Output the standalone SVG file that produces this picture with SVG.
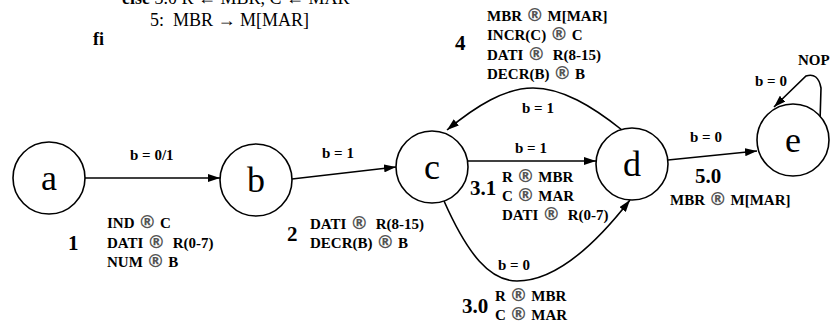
<svg xmlns="http://www.w3.org/2000/svg" width="831" height="324" viewBox="0 0 831 324">
  <style>
    .node { fill: #fff; stroke: #000; stroke-width: 1.6; }
    .nlab { font-family: "Liberation Serif", serif; font-size: 36px; text-anchor: middle; fill: #000; }
    .edge { fill: none; stroke: #000; stroke-width: 1.6; }
    .lbl { font-family: "Liberation Serif", serif; font-size: 15px; font-weight: bold; fill: #000; }
    .num { font-family: "Liberation Serif", serif; font-size: 21px; font-weight: bold; fill: #000; }
    .code { font-family: "Liberation Serif", serif; font-size: 18px; fill: #000; }
    .r { fill: #555; font-family: "DejaVu Sans", sans-serif; font-size: 18px; font-weight: bold; }
  </style>
  <defs>
    <marker id="arrow" viewBox="0 0 12 8" refX="12" refY="4" markerWidth="12" markerHeight="8" markerUnits="userSpaceOnUse" orient="auto">
      <path d="M0,0 L12,4 L0,8 Z" fill="#000"/>
    </marker>
  </defs>

  <!-- pseudo-code fragment -->
  <g id="code">
    <text class="code" x="122" y="4"><tspan font-weight="bold">else</tspan> 3.0 R ← MBR, C ← MAR</text>
    <text class="code" x="150" y="26">5:&#160;&#160;MBR → M[MAR]</text>
    <text class="code" x="93" y="45" font-weight="bold">fi</text>
  </g>

  <!-- connectors -->
  <g id="edges">
    <path class="edge" d="M85,178 L220,178" marker-end="url(#arrow)"/>
    <path class="edge" d="M292,179 L396,167" marker-end="url(#arrow)"/>
    <path class="edge" d="M468,161 L596,161" marker-end="url(#arrow)"/>
    <path class="edge" d="M444,201 C468,255 490,281 517,281 C555,281 595,245 630,200" marker-end="url(#arrow)"/>
    <path class="edge" d="M622,130 C592,106 562,88 533,88 C505,88 476,106 447,130" marker-end="url(#arrow)"/>
    <path class="edge" d="M668,160 L757,151" marker-end="url(#arrow)"/>
    <path class="edge" d="M820,122 L821,88 Q818,72 806,76 L774,107" marker-end="url(#arrow)"/>
  </g>

  <!-- states -->
  <g id="node-a"><circle class="node" cx="49" cy="178" r="36"/><text class="nlab" x="49" y="190">a</text></g>
  <g id="node-b"><circle class="node" cx="256" cy="180" r="36"/><text class="nlab" x="256" y="192">b</text></g>
  <g id="node-c"><circle class="node" cx="432" cy="167" r="36"/><text class="nlab" x="432" y="179">c</text></g>
  <g id="node-d"><circle class="node" cx="632" cy="164" r="36"/><text class="nlab" x="632" y="176">d</text></g>
  <g id="node-e"><circle class="node" cx="793" cy="140" r="36"/><text class="nlab" x="793" y="152">e</text></g>

  <!-- transition conditions -->
  <g id="conditions">
    <text class="lbl" x="130" y="160">b = 0/1</text>
    <text class="lbl" x="322" y="158">b = 1</text>
    <text class="lbl" x="515" y="153">b = 1</text>
    <text class="lbl" x="522" y="113">b = 1</text>
    <text class="lbl" x="498" y="270">b = 0</text>
    <text class="lbl" x="690" y="142">b = 0</text>
    <text class="lbl" x="755" y="86">b = 0</text>
    <text class="lbl" x="798" y="65">NOP</text>
  </g>

  <!-- micro-operations -->
  <g id="step-1">
    <text class="num" x="68" y="250">1</text>
    <text class="lbl" x="107" y="228">IND <tspan class="r">®</tspan> C</text>
    <text class="lbl" x="107" y="248">DATI <tspan class="r">®</tspan>&#160; R(0-7)</text>
    <text class="lbl" x="107" y="267">NUM <tspan class="r">®</tspan> B</text>
  </g>
  <g id="step-2">
    <text class="num" x="287" y="241">2</text>
    <text class="lbl" x="310" y="229">DATI <tspan class="r">®</tspan>&#160; R(8-15)</text>
    <text class="lbl" x="310" y="248">DECR(B) <tspan class="r">®</tspan> B</text>
  </g>
  <g id="step-3-1">
    <text class="num" x="470" y="195">3.1</text>
    <text class="lbl" x="502" y="182">R <tspan class="r">®</tspan> MBR</text>
    <text class="lbl" x="502" y="201">C <tspan class="r">®</tspan> MAR</text>
    <text class="lbl" x="502" y="220">DATI <tspan class="r">®</tspan>&#160; R(0-7)</text>
  </g>
  <g id="step-3-0">
    <text class="num" x="462" y="313">3.0</text>
    <text class="lbl" x="495" y="301">R <tspan class="r">®</tspan> MBR</text>
    <text class="lbl" x="495" y="320">C <tspan class="r">®</tspan> MAR</text>
  </g>
  <g id="step-4">
    <text class="num" x="455" y="50">4</text>
    <text class="lbl" x="487" y="21">MBR <tspan class="r">®</tspan> M[MAR]</text>
    <text class="lbl" x="487" y="40">INCR(C) <tspan class="r">®</tspan> C</text>
    <text class="lbl" x="487" y="60">DATI <tspan class="r">®</tspan>&#160; R(8-15)</text>
    <text class="lbl" x="487" y="79">DECR(B) <tspan class="r">®</tspan> B</text>
  </g>
  <g id="step-5">
    <text class="num" x="695" y="183">5.0</text>
    <text class="lbl" x="670" y="205">MBR <tspan class="r">®</tspan> M[MAR]</text>
  </g>
</svg>
